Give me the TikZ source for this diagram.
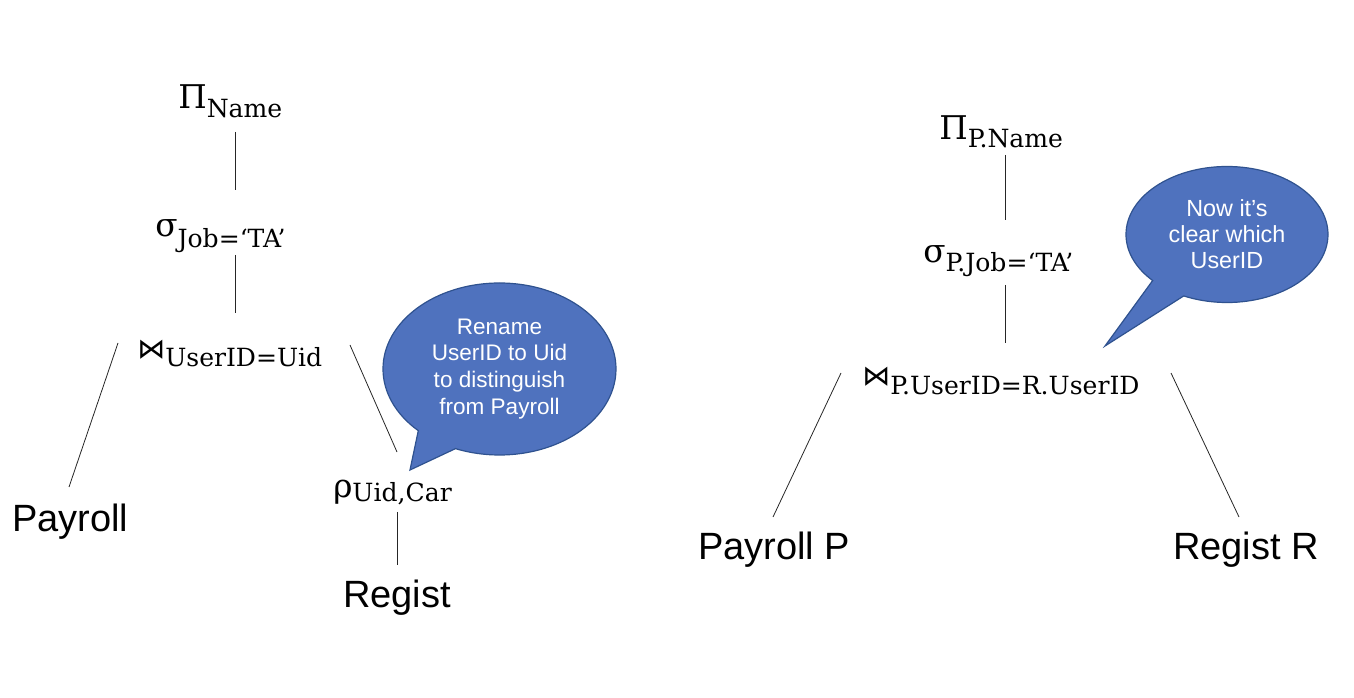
\documentclass[tikz,border=0pt]{standalone}
\usepackage{fontspec}
\setmainfont{Liberation Sans}
\newfontfamily\rasubfont{DejaVu Serif}
\newfontfamily\rasymfont{DejaVu Serif}
\newfontfamily\rajoinfont{DejaVu Sans}
\usetikzlibrary{shapes.callouts}
\definecolor{bubblefill}{RGB}{79,114,190}
\definecolor{bubbleline}{RGB}{47,82,143}
\newcommand{\raop}[3]{\raisebox{#2}{#1}{\rasubfont\fontsize{18.8}{19}\selectfont#3}}
\newcommand{\rabig}[1]{\rasymfont\fontsize{24.5}{25}\selectfont#1}
\newcommand{\rajoin}{\rajoinfont\fontsize{21}{21}\selectfont ⋈}
\tikzset{
  op/.style={anchor=base west,inner sep=0pt},
  rel/.style={anchor=base west,inner sep=0pt,font=\fontsize{28.5}{30}\selectfont},
  edge/.style={line width=0.6pt,black!85},
  bubble/.style={ellipse callout,draw=bubbleline,fill=bubblefill,line width=0.9pt,text=white,
    align=center,inner sep=0pt,callout pointer arc=22}
}
\begin{document}
\begin{tikzpicture}[x=0.75pt,y=-0.75pt]
\useasboundingbox (0,0) rectangle (1354,698);
\node[op] (pi1) at (178,118) {\raop{\rabig{Π}}{7pt}{Name}};
\node[op] (sigma1) at (155,248) {\raop{\rabig{σ}}{8.5pt}{Job=‘TA’}};
\node[op] (join1) at (137,367) {\raop{\rajoin}{6.5pt}{UserID=Uid}};
\node[op] (rho1) at (333,502) {\raop{\rabig{ρ}}{3pt}{Uid,Car}};
\node[rel] (payroll) at (12,532) {Payroll};
\node[rel] (regist) at (343,607) {Regist};
\node[op] (pi2) at (939,148) {\raop{\rabig{Π}}{6pt}{P.Name}};
\node[op] (sigma2) at (923,272) {\raop{\rabig{σ}}{7pt}{P.Job=‘TA’}};
\node[op] (join2) at (862,395) {\raop{\rajoin}{7pt}{P.UserID=R.UserID}};
\node[rel] (payrollP) at (698,560) {Payroll P};
\node[rel] (registR) at (1173,560) {Regist R};
\coordinate (pi1-b) at (235,132);
\coordinate (sigma1-t) at (235,190);
\coordinate (sigma1-b) at (235,255);
\coordinate (join1-t) at (235,313);
\coordinate (join1-l) at (118,343);
\coordinate (payroll-t) at (69,487);
\coordinate (join1-r) at (350,345);
\coordinate (rho1-t) at (397,452);
\coordinate (rho1-b) at (397,512);
\coordinate (regist-t) at (397,565);
\coordinate (pi2-b) at (1005,155);
\coordinate (sigma2-t) at (1005,220);
\coordinate (sigma2-b) at (1005,285);
\coordinate (join2-t) at (1005,343);
\coordinate (join2-l) at (841,373);
\coordinate (payrollP-t) at (773,517);
\coordinate (join2-r) at (1171,373);
\coordinate (registR-t) at (1239,517);
\foreach \a/\b in {pi1-b/sigma1-t,sigma1-b/join1-t,join1-l/payroll-t,join1-r/rho1-t,rho1-b/regist-t,
  pi2-b/sigma2-t,sigma2-b/join2-t,join2-l/payrollP-t,join2-r/registR-t}
  \draw[edge] (\a) -- (\b);
\coordinate (tip1) at (410,470);
\coordinate (tip2) at (1105,346);
\node[bubble,minimum width=174.75pt,minimum height=129pt,callout absolute pointer={(tip1)},
  font=\fontsize{16.9}{20.2}\selectfont] (note1)
  at (499.5,369) {Rename\\UserID to Uid\\to distinguish\\from Payroll};
\node[bubble,minimum width=151.5pt,minimum height=102pt,callout absolute pointer={(tip2)},
  font=\fontsize{17.5}{19.5}\selectfont] (note2)
  at (1227,234.5) {Now it’s\\clear which\\UserID};
\end{tikzpicture}
\end{document}
